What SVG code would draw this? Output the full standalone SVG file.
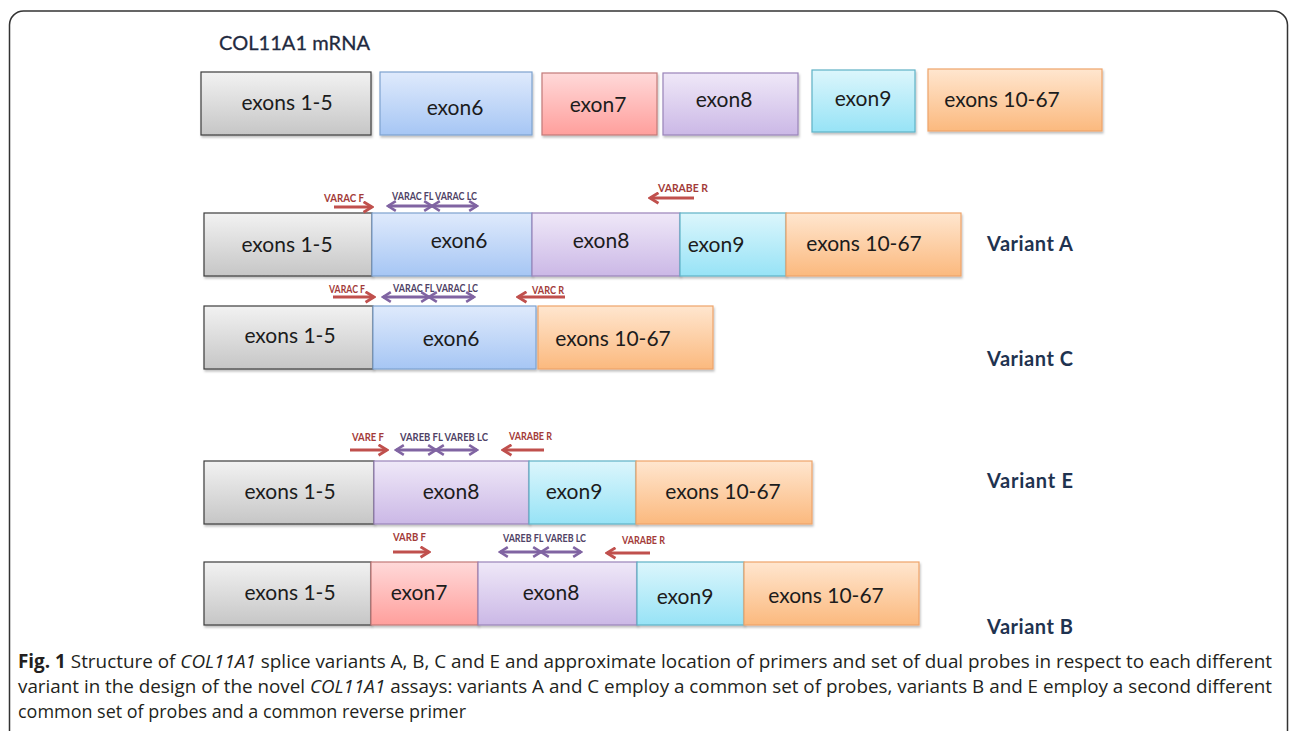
<svg xmlns="http://www.w3.org/2000/svg" width="1292" height="731" viewBox="0 0 1292 731">
<defs>
<linearGradient id="gGray" x1="0" y1="0" x2="0" y2="1"><stop offset="0" stop-color="#f2f2f2"/><stop offset="1" stop-color="#c6c6c6"/></linearGradient>
<linearGradient id="gBlue" x1="0" y1="0" x2="0" y2="1"><stop offset="0" stop-color="#dfeafc"/><stop offset="1" stop-color="#a6c6f4"/></linearGradient>
<linearGradient id="gRed" x1="0" y1="0" x2="0" y2="1"><stop offset="0" stop-color="#ffd9d9"/><stop offset="1" stop-color="#ff9f9c"/></linearGradient>
<linearGradient id="gPurple" x1="0" y1="0" x2="0" y2="1"><stop offset="0" stop-color="#efe8f8"/><stop offset="1" stop-color="#cbb8e6"/></linearGradient>
<linearGradient id="gCyan" x1="0" y1="0" x2="0" y2="1"><stop offset="0" stop-color="#dcf6fc"/><stop offset="1" stop-color="#97e3f6"/></linearGradient>
<linearGradient id="gOrange" x1="0" y1="0" x2="0" y2="1"><stop offset="0" stop-color="#ffe6cf"/><stop offset="1" stop-color="#fbb97e"/></linearGradient>
<filter id="sh" x="-5%" y="-10%" width="110%" height="130%"><feDropShadow dx="1" dy="2" stdDeviation="1.2" flood-color="#000" flood-opacity="0.25"/></filter>
<marker id="rh" viewBox="0 0 10 10" refX="8.5" refY="5" markerWidth="13" markerHeight="13" markerUnits="userSpaceOnUse" orient="auto-start-reverse">
<path d="M2,1 L8.5,5 L2,9" fill="none" stroke="#c0504d" stroke-width="2.2"/>
</marker>
<marker id="ph" viewBox="0 0 10 10" refX="8.5" refY="5" markerWidth="12" markerHeight="12" markerUnits="userSpaceOnUse" orient="auto-start-reverse">
<path d="M2,1 L8.5,5 L2,9" fill="none" stroke="#8064a2" stroke-width="2.2"/>
</marker>
</defs>
<style>
.box{filter:url(#sh);stroke-width:1.2}
.gray{fill:url(#gGray);stroke:#3c3c3c}
.blue{fill:url(#gBlue);stroke:#7ea2cf}
.red{fill:url(#gRed);stroke:#c27a78}
.purple{fill:url(#gPurple);stroke:#9984b9}
.cyan{fill:url(#gCyan);stroke:#5eb2c6}
.orange{fill:url(#gOrange);stroke:#eea46a}
.bt{font-family:Lato,"Open Sans",sans-serif;font-size:21px;fill:#1c1c1c;text-anchor:middle}
.vt{font-family:Lato,"Open Sans",sans-serif;font-size:20px;font-weight:bold;fill:#1f3350}
.rl{font-family:Lato,"Liberation Sans",sans-serif;font-size:11px;font-weight:bold;fill:#a33b39}
.pl{font-family:Lato,"Liberation Sans",sans-serif;font-size:11px;font-weight:bold;fill:#4f4266}
.ra{stroke:#c0504d;stroke-width:3.2;fill:none;marker-end:url(#rh)}
.pa{stroke:#8064a2;stroke-width:3;fill:none;marker-start:url(#ph);marker-end:url(#ph)}
.cap{font-family:"Open Sans","Noto Sans",sans-serif;font-size:19px;fill:#231f20}
</style>
<rect x="0" y="0" width="1292" height="731" fill="#ffffff"/>
<rect x="9.5" y="11" width="1278" height="760" rx="14" fill="none" stroke="#333" stroke-width="1.5"/>

<text id="title" x="219" y="50" font-family="Lato,'Open Sans',sans-serif" font-size="20" fill="#1f2a40" stroke="#1f2a40" stroke-width="0.3" textLength="151">COL11A1 mRNA</text>

<g id="mrna">
<g id="m-ex1-5"><rect class="box gray" x="201" y="72" width="170" height="63"/><text class="bt" x="287" y="110">exons 1-5</text></g>
<g id="m-ex6"><rect class="box blue" x="380" y="72" width="152" height="63"/><text class="bt" x="455" y="115">exon6</text></g>
<g id="m-ex7"><rect class="box red" x="542" y="73" width="115" height="62"/><text class="bt" x="598" y="112">exon7</text></g>
<g id="m-ex8"><rect class="box purple" x="663" y="73" width="135" height="62"/><text class="bt" x="724" y="107">exon8</text></g>
<g id="m-ex9"><rect class="box cyan" x="812" y="70" width="103" height="62"/><text class="bt" x="863" y="106">exon9</text></g>
<g id="m-ex10"><rect class="box orange" x="928" y="69" width="174" height="62"/><text class="bt" x="1002" y="107">exons 10-67</text></g>
</g>

<g id="variantA">
<g id="a-ex1-5"><rect class="box gray" x="204" y="213" width="168" height="63"/><text class="bt" x="287" y="252">exons 1-5</text></g>
<g id="a-ex6"><rect class="box blue" x="372" y="213" width="160" height="63"/><text class="bt" x="459" y="248">exon6</text></g>
<g id="a-ex8"><rect class="box purple" x="532" y="213" width="148" height="63"/><text class="bt" x="601" y="248">exon8</text></g>
<g id="a-ex9"><rect class="box cyan" x="680" y="213" width="106" height="63"/><text class="bt" x="716" y="252">exon9</text></g>
<g id="a-ex10"><rect class="box orange" x="786" y="213" width="175" height="63"/><text class="bt" x="864" y="251">exons 10-67</text></g>
<text id="a-label" class="vt" x="987" y="251" textLength="86">Variant A</text>
</g>

<g id="variantC">
<g id="c-ex1-5"><rect class="box gray" x="204" y="306" width="169" height="63"/><text class="bt" x="290" y="343">exons 1-5</text></g>
<g id="c-ex6"><rect class="box blue" x="373" y="306" width="163" height="63"/><text class="bt" x="451" y="346">exon6</text></g>
<g id="c-ex10"><rect class="box orange" x="538" y="306" width="175" height="63"/><text class="bt" x="613" y="346">exons 10-67</text></g>
<text id="c-label" class="vt" x="987" y="366" textLength="86">Variant C</text>
</g>

<g id="variantE">
<g id="e-ex1-5"><rect class="box gray" x="204" y="461" width="170" height="63"/><text class="bt" x="290" y="499">exons 1-5</text></g>
<g id="e-ex8"><rect class="box purple" x="374" y="461" width="155" height="63"/><text class="bt" x="451" y="499">exon8</text></g>
<g id="e-ex9"><rect class="box cyan" x="529" y="461" width="107" height="63"/><text class="bt" x="574" y="499">exon9</text></g>
<g id="e-ex10"><rect class="box orange" x="636" y="461" width="176" height="63"/><text class="bt" x="723" y="499">exons 10-67</text></g>
<text id="e-label" class="vt" x="987" y="488" textLength="86">Variant E</text>
</g>

<g id="variantB">
<g id="b-ex1-5"><rect class="box gray" x="204" y="562" width="167" height="63"/><text class="bt" x="290" y="600">exons 1-5</text></g>
<g id="b-ex7"><rect class="box red" x="371" y="562" width="107" height="63"/><text class="bt" x="419" y="600">exon7</text></g>
<g id="b-ex8"><rect class="box purple" x="478" y="562" width="159" height="63"/><text class="bt" x="551" y="600">exon8</text></g>
<g id="b-ex9"><rect class="box cyan" x="637" y="562" width="107" height="63"/><text class="bt" x="685" y="604">exon9</text></g>
<g id="b-ex10"><rect class="box orange" x="744" y="562" width="175" height="63"/><text class="bt" x="826" y="603">exons 10-67</text></g>
<text id="b-label" class="vt" x="987" y="634" textLength="86">Variant B</text>
</g>

<g id="connectors">
<line class="ra" x1="334" y1="207" x2="372" y2="207"/>
<line class="pa" x1="388" y1="206" x2="432" y2="206"/>
<line class="pa" x1="432" y1="206" x2="477" y2="206"/>
<line class="ra" x1="694" y1="198" x2="650" y2="198"/>

<line class="ra" x1="333" y1="297" x2="374" y2="297"/>
<line class="pa" x1="383" y1="297" x2="429" y2="297"/>
<line class="pa" x1="429" y1="297" x2="474" y2="297"/>
<line class="ra" x1="565" y1="297" x2="518" y2="297"/>

<line class="ra" x1="350" y1="450" x2="387" y2="450"/>
<line class="pa" x1="396" y1="450" x2="436" y2="450"/>
<line class="pa" x1="436" y1="450" x2="477" y2="450"/>
<line class="ra" x1="544" y1="450" x2="503" y2="450"/>

<line class="ra" x1="393" y1="552" x2="429" y2="552"/>
<line class="pa" x1="500" y1="552" x2="541" y2="552"/>
<line class="pa" x1="541" y1="552" x2="581" y2="552"/>
<line class="ra" x1="650" y1="553" x2="607" y2="553"/>
</g>

<g id="primer-labels">
<text class="rl" x="324" y="202" textLength="40" lengthAdjust="spacingAndGlyphs">VARAC F</text>
<text class="pl" x="392" y="200" textLength="85" lengthAdjust="spacingAndGlyphs">VARAC FL VARAC LC</text>
<text class="rl" x="658" y="192" textLength="50" lengthAdjust="spacingAndGlyphs">VARABE R</text>

<text class="rl" x="329" y="293" textLength="36" lengthAdjust="spacingAndGlyphs">VARAC F</text>
<text class="pl" x="393" y="292" textLength="85" lengthAdjust="spacingAndGlyphs">VARAC FL VARAC LC</text>
<text class="rl" x="532" y="294" textLength="32" lengthAdjust="spacingAndGlyphs">VARC R</text>

<text class="rl" x="352" y="441" textLength="32" lengthAdjust="spacingAndGlyphs">VARE F</text>
<text class="pl" x="400" y="441" textLength="88" lengthAdjust="spacingAndGlyphs">VAREB FL VAREB LC</text>
<text class="rl" x="509" y="440" textLength="43" lengthAdjust="spacingAndGlyphs">VARABE R</text>

<text class="rl" x="393" y="541" textLength="33" lengthAdjust="spacingAndGlyphs">VARB F</text>
<text class="pl" x="503" y="542" textLength="83" lengthAdjust="spacingAndGlyphs">VAREB FL VAREB LC</text>
<text class="rl" x="622" y="544" textLength="43" lengthAdjust="spacingAndGlyphs">VARABE R</text>
</g>

<g id="caption">
<text class="cap" x="18" y="668" textLength="1254" lengthAdjust="spacingAndGlyphs"><tspan font-weight="bold">Fig. 1</tspan> Structure of <tspan font-style="italic">COL11A1</tspan> splice variants A, B, C and E and approximate location of primers and set of dual probes in respect to each different</text>
<text class="cap" x="18" y="693" textLength="1254" lengthAdjust="spacingAndGlyphs">variant in the design of the novel <tspan font-style="italic">COL11A1</tspan> assays: variants A and C employ a common set of probes, variants B and E employ a second different</text>
<text class="cap" x="18" y="718" textLength="448" lengthAdjust="spacingAndGlyphs">common set of probes and a common reverse primer</text>
</g>
</svg>
